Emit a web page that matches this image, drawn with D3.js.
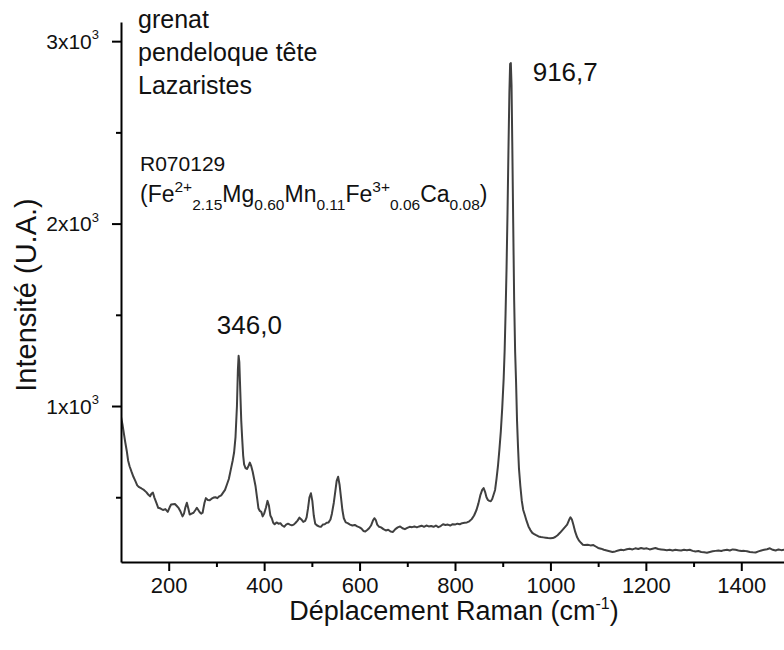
<!DOCTYPE html>
<html>
<head>
<meta charset="utf-8">
<script src="https://cdn.jsdelivr.net/npm/d3@7"></script>
<style>
  body { margin: 0; background: #fff; }
  svg { display: block; font-family: "Liberation Sans", Arial, sans-serif; }
</style>
</head>
<body>
<svg id="chart"></svg>
<script>
// Raman spectrum - grenat, pendeloque tête (Lazaristes)

const width = 784;
const height = 650;

// spectrum (cm-1 / counts)
const ramanShift = [
  100, 103, 106, 109, 112, 115, 118, 122, 126, 130, 134, 138, 143, 148, 153, 157, 161, 164, 167, 170,
  174, 178, 183, 188, 193, 198, 202, 205, 209, 213, 217, 221, 225, 229, 232, 235, 238, 241, 244, 248,
  252, 256, 259, 262, 265, 268, 271, 275, 278, 282, 286, 290, 294, 298, 302, 306, 310, 314, 318, 322,
  326, 330, 334, 337, 340, 343, 345, 346.5, 348, 350, 352, 354, 356, 358, 361, 364, 367, 370, 373, 376,
  379, 382, 385, 388, 391, 394, 397, 400, 404, 407, 410, 413, 416, 419, 422, 426, 430, 434, 438, 442,
  446, 450, 454, 458, 462, 466, 470, 474, 478, 482, 486, 489, 492, 495, 498, 501, 504, 507, 511, 515,
  519, 523, 527, 531, 535, 539, 542, 546, 549, 552, 555, 558, 561, 564, 567, 571, 575, 580, 585, 590,
  595, 600, 604, 608, 612, 616, 620, 624, 628, 631, 634, 637, 641, 645, 650, 655, 660, 665, 670, 675,
  680, 685, 690, 695, 700, 705, 710, 715, 720, 725, 730, 735, 740, 745, 750, 755, 760, 765, 770, 775,
  780, 785, 790, 795, 800, 805, 810, 815, 820, 825, 830, 835, 840, 845, 849, 853, 857, 860, 863, 866,
  869, 872, 875, 878, 881, 884, 887, 890, 893, 896, 899, 902, 904, 906, 908, 910, 912, 914, 915.5, 917,
  918.5, 920, 922, 924, 926, 928, 930, 932, 934, 937, 940, 943, 946, 950, 954, 958, 962, 966, 970, 975,
  980, 985, 990, 995, 1000, 1005, 1010, 1015, 1020, 1025, 1030, 1035, 1039, 1042, 1045, 1048, 1052, 1056, 1060, 1064,
  1068, 1072, 1078, 1084, 1090, 1095, 1100, 1106, 1112, 1118, 1124, 1130, 1136, 1142, 1148, 1154, 1160, 1166, 1172, 1178,
  1184, 1190, 1196, 1202, 1208, 1214, 1220, 1226, 1232, 1238, 1244, 1250, 1256, 1262, 1268, 1274, 1280, 1286, 1292, 1298,
  1304, 1310, 1316, 1322, 1328, 1334, 1340, 1346, 1352, 1358, 1364, 1370, 1376, 1382, 1388, 1394, 1400, 1406, 1412, 1418,
  1424, 1430, 1436, 1442, 1448, 1454, 1460, 1466, 1472, 1478, 1484, 1490, 1496
];

const intensity = [
  940, 900, 850, 800, 755, 700, 670, 640, 612, 590, 565, 555, 548, 540, 528, 515, 505, 520, 525, 498,
  470, 442, 438, 430, 435, 420, 445, 460, 462, 463, 452, 440, 420, 395, 410, 445, 470, 440, 405, 410,
  415, 430, 442, 430, 418, 410, 415, 470, 495, 485, 484, 492, 498, 500, 495, 505, 510, 525, 540, 570,
  600, 650, 700, 745, 830, 1000, 1200, 1275, 1240, 1080, 920, 820, 730, 680, 660, 655, 670, 690, 670, 640,
  600, 560, 500, 440, 425, 420, 395, 410, 445, 480, 455, 400, 385, 360, 352, 362, 355, 358, 345, 338,
  350, 355, 350, 346, 350, 360, 372, 388, 378, 365, 370, 390, 440, 500, 522, 480, 400, 355, 345, 340,
  338, 350, 352, 360, 362, 378, 410, 470, 530, 590, 612, 570, 500, 430, 385, 362, 358, 350, 345, 348,
  340, 335, 328, 315, 312, 320, 330, 345, 372, 385, 375, 350, 338, 335, 325, 318, 322, 312, 310, 325,
  335, 340, 330, 325, 332, 338, 336, 340, 335, 340, 344, 338, 345, 340, 342, 338, 345, 336, 342, 352,
  348, 350, 345, 352, 350, 355, 352, 358, 360, 362, 368, 380, 400, 430, 465, 510, 540, 550, 530, 500,
  485, 480, 478, 490, 515, 540, 600, 670, 760, 860, 990, 1150, 1300, 1510, 1750, 2050, 2400, 2720, 2875, 2880,
  2760, 2450, 2000, 1580, 1300, 1130, 920, 780, 660, 560, 480, 430, 405, 370, 340, 320, 305, 298, 292, 285,
  282, 280, 278, 276, 275, 276, 282, 292, 305, 320, 335, 350, 375, 390, 378, 350, 310, 280, 262, 250,
  240, 238, 240, 236, 238, 230, 222, 218, 212, 208, 204, 200, 203, 208, 212, 210, 215, 218, 214, 220,
  216, 222, 218, 220, 214, 218, 222, 216, 214, 212, 210, 212, 208, 212, 210, 208, 212, 210, 212, 206,
  203, 205, 200, 198, 196, 200, 204, 206, 208, 205, 210, 212, 208, 214, 212, 208, 205, 206, 204, 200,
  198, 197, 203, 208, 212, 215, 220, 212, 208, 214, 210, 212, 208
];

const xTicks = [200, 400, 600, 800, 1000, 1200, 1400];
const xMinorTicks = [300, 500, 700, 900, 1100, 1300, 1500];
const yTicks = [1000, 2000, 3000];
const yTickLabels = ['1', '2', '3'];
const yMinorTicks = [500, 1500, 2500];

const titleLines = ['grenat', 'pendeloque tête', 'Lazaristes'];
const peakLabels = ['346,0', '916,7'];

const svg = d3.select('#chart')
  .attr('width', width)
  .attr('height', height);

const x = d3.scaleLinear().domain([100, 1500]).range([121, 789]);
const y = d3.scaleLinear().domain([145, 3105]).range([562, 22]);

svg.append('clipPath').attr('id', 'plot-clip')
  .append('rect').attr('x', 121).attr('y', 0).attr('width', 700).attr('height', 562);

// spectrum
const data = ramanShift.map((v, i) => [v, intensity[i]]);
svg.append('path')
  .datum(data)
  .attr('clip-path', 'url(#plot-clip)')
  .attr('fill', 'none')
  .attr('stroke', '#404040')
  .attr('stroke-width', 2)
  .attr('stroke-linejoin', 'round')
  .attr('d', d3.line().x(d => x(d[0])).y(d => y(d[1])));

// x axis
const xAxis = svg.append('g')
  .attr('transform', `translate(0,${y.range()[0]})`)
  .call(d3.axisBottom(x).tickValues(xTicks).tickSize(9).tickPadding(6).tickSizeOuter(0).tickFormat(d3.format('d')));
svg.append('g')
  .attr('transform', `translate(0,${y.range()[0]})`)
  .call(d3.axisBottom(x).tickValues(xMinorTicks).tickSize(5).tickFormat('').tickSizeOuter(0))
  .select('.domain').remove();

// y axis
const yAxis = svg.append('g')
  .attr('transform', `translate(${x.range()[0]},0)`)
  .call(d3.axisLeft(y).tickValues(yTicks).tickSize(9).tickPadding(13).tickSizeOuter(0).tickFormat(''));
svg.append('g')
  .attr('transform', `translate(${x.range()[0]},0)`)
  .call(d3.axisLeft(y).tickValues(yMinorTicks).tickSize(5).tickFormat('').tickSizeOuter(0))
  .select('.domain').remove();

svg.selectAll('.domain').attr('stroke', '#000').attr('stroke-width', 2);
svg.selectAll('.tick line').attr('stroke', '#000').attr('stroke-width', 2);

xAxis.selectAll('.tick text')
  .attr('font-size', 22)
  .attr('font-family', '"Liberation Sans", Arial, sans-serif')
  .attr('fill', '#111');

// y tick labels as "Nx10^3"
yAxis.selectAll('.tick text').each(function(d, i) {
  const t = d3.select(this)
    .attr('font-size', 21)
    .attr('font-family', '"Liberation Sans", Arial, sans-serif')
    .attr('fill', '#111')
    .attr('dy', '0.35em');
  t.text(null);
  t.append('tspan').text(yTickLabels[i] + 'x10');
  t.append('tspan').attr('font-size', 13).attr('dy', '-0.75em').text('3');
});

// axis titles
const xTitle = svg.append('text')
  .attr('x', 454)
  .attr('y', 620)
  .attr('text-anchor', 'middle')
  .attr('font-size', 27)
  .attr('fill', '#111');
xTitle.append('tspan').text('Déplacement Raman (cm');
xTitle.append('tspan').attr('font-size', 16).attr('dy', -11).text('-1');
xTitle.append('tspan').attr('dy', 11).text(')');

svg.append('text')
  .attr('transform', 'translate(36,295) rotate(-90)')
  .attr('text-anchor', 'middle')
  .attr('font-size', 29)
  .attr('fill', '#111')
  .text('Intensité (U.A.)');

// sample text
svg.append('g').selectAll('text')
  .data(titleLines)
  .join('text')
  .attr('x', 138)
  .attr('y', (d, i) => 28 + i * 33)
  .attr('font-size', 25)
  .attr('fill', '#111')
  .text(d => d);

svg.append('text')
  .attr('x', 140)
  .attr('y', 171)
  .attr('font-size', 21)
  .attr('fill', '#111')
  .text('R070129');

// formula with sup/sub parts
const formula = [
  ['(Fe', 0], ['2+', -1], ['2.15', 1], ['Mg', 0], ['0.60', 1], ['Mn', 0], ['0.11', 1],
  ['Fe', 0], ['3+', -1], ['0.06', 1], ['Ca', 0], ['0.08', 1], [')', 0]
];
const ft = svg.append('text')
  .attr('x', 140)
  .attr('y', 202)
  .attr('font-size', 23)
  .attr('fill', '#111');
let prev = 0;
formula.forEach(([s, pos]) => {
  const off = pos === -1 ? -10 : pos === 1 ? 8 : 0;
  ft.append('tspan')
    .attr('dy', off - prev)
    .attr('font-size', pos === 0 ? 23 : 15.5)
    .text(s);
  prev = off;
});

// peak labels
svg.append('text')
  .attr('x', x(346) + 11)
  .attr('y', 334)
  .attr('text-anchor', 'middle')
  .attr('font-size', 26)
  .attr('fill', '#111')
  .text(peakLabels[0]);

svg.append('text')
  .attr('x', x(916.7) + 22)
  .attr('y', 81)
  .attr('font-size', 26)
  .attr('fill', '#111')
  .text(peakLabels[1]);
</script>
</body>
</html>
